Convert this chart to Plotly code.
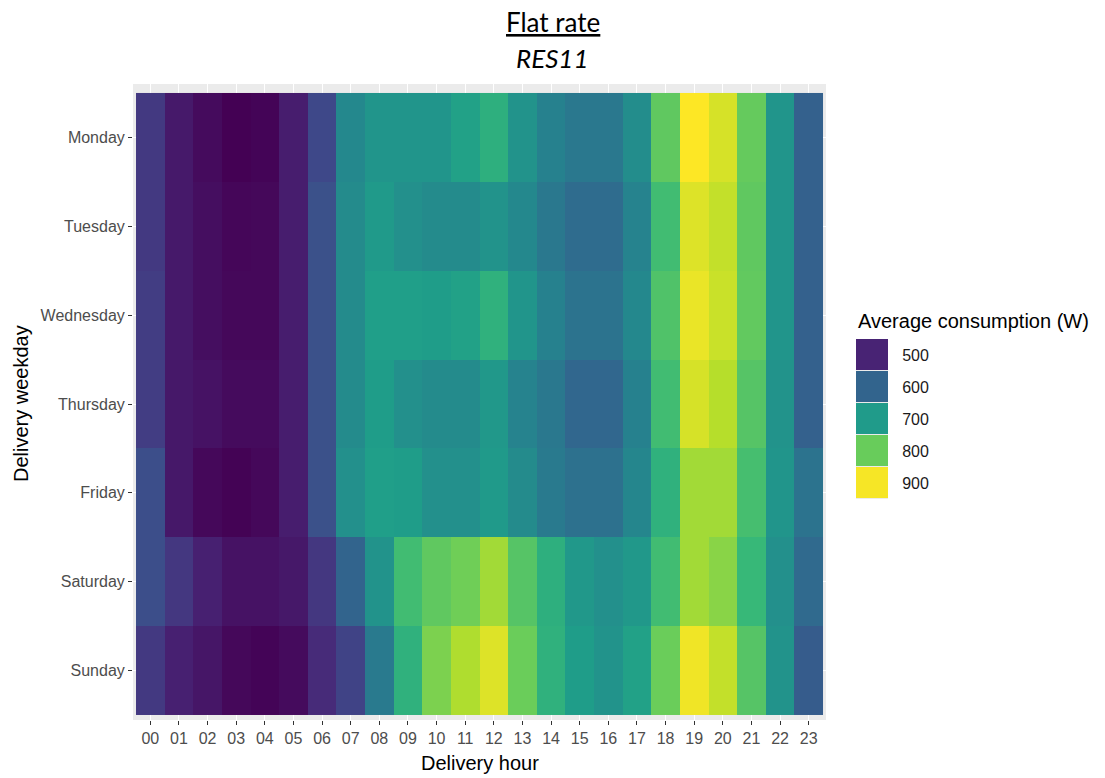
import plotly.graph_objects as go

hours = [f"{h:02d}" for h in range(24)]
days = ["Monday", "Tuesday", "Wednesday", "Thursday", "Friday", "Saturday", "Sunday"]

monday    = [532, 487, 469, 456, 460, 492, 555, 667, 689, 689, 689, 712, 739, 685, 654, 636, 636, 676, 793, 905, 878, 797, 689, 595]
tuesday   = [532, 487, 472, 463, 465, 492, 568, 672, 698, 680, 672, 672, 685, 667, 636, 613, 613, 658, 766, 883, 865, 793, 689, 595]
wednesday = [537, 487, 472, 465, 465, 492, 568, 672, 707, 707, 703, 712, 743, 689, 654, 627, 627, 667, 779, 892, 869, 795, 689, 595]
thursday  = [537, 485, 478, 469, 469, 492, 568, 672, 703, 680, 672, 672, 694, 658, 636, 604, 604, 654, 766, 878, 856, 784, 685, 595]
friday    = [564, 485, 465, 458, 465, 492, 568, 680, 707, 703, 680, 680, 698, 672, 640, 622, 622, 663, 743, 842, 842, 770, 689, 627]
saturday  = [564, 528, 496, 478, 478, 485, 528, 600, 685, 766, 793, 806, 842, 784, 739, 694, 680, 694, 766, 842, 824, 757, 680, 609]
sunday    = [532, 496, 483, 465, 460, 469, 510, 546, 640, 743, 815, 851, 883, 802, 743, 703, 685, 712, 802, 896, 865, 784, 685, 586]

legend_values = [500, 600, 700, 800, 900]
legend_labels = ["500", "600", "700", "800", "900"]

z = [monday, tuesday, wednesday, thursday, friday, saturday, sunday]

fig = go.Figure()

fig.add_trace(go.Heatmap(
    x=hours, y=days, z=z, coloraxis="coloraxis",
    xaxis="x", yaxis="y", hoverongaps=False,
))

fig.add_trace(go.Heatmap(
    x=["k"], y=legend_labels, z=[[v] for v in legend_values],
    coloraxis="coloraxis", xaxis="x2", yaxis="y2", ygap=1,
))

W, H = 1105, 778
px = lambda v: v / W
py = lambda v: 1 - v / H

tickfont = dict(family="Liberation Sans, Arial, sans-serif", size=16, color="#4D4D4D")

fig.update_layout(
    width=W, height=H,
    margin=dict(l=0, r=0, t=0, b=0),
    paper_bgcolor="white",
    plot_bgcolor="#EBEBEB",
    showlegend=False,
    coloraxis=dict(colorscale="Viridis", cmin=456, cmax=905, showscale=False),
    xaxis=dict(
        domain=[px(133), px(826)], type="category",
        categoryorder="array", categoryarray=hours,
        range=[-0.605, 23.605],
        showgrid=True, gridcolor="white", gridwidth=1.2,
        ticks="outside", ticklen=4, tickcolor="#333333", tickwidth=1,
        tickfont=tickfont, zeroline=False, showline=False, anchor="y",
        fixedrange=True,
    ),
    yaxis=dict(
        domain=[py(720), py(84)], type="category",
        categoryorder="array", categoryarray=days,
        range=[6.556, -0.601],
        showgrid=True, gridcolor="white", gridwidth=1.2,
        ticks="outside", ticklen=4, tickcolor="#333333", tickwidth=1,
        tickfont=tickfont, zeroline=False, showline=False, anchor="x",
        fixedrange=True,
    ),
    xaxis2=dict(
        domain=[px(856), px(888)], anchor="y2", visible=False,
        range=[-0.5, 0.5], fixedrange=True,
    ),
    yaxis2=dict(
        domain=[py(499), py(339)], anchor="x2", type="category",
        categoryorder="array", categoryarray=legend_labels,
        range=[4.5, -0.5], side="right",
        showgrid=False, zeroline=False, showline=False,
        ticks="outside", ticklen=10, tickcolor="rgba(0,0,0,0)",
        tickfont=dict(family="Liberation Sans, Arial, sans-serif", size=16, color="#1A1A1A"),
        fixedrange=True,
    ),
    annotations=[
        dict(text="<u>Flat rate</u>", x=0.5, y=py(22), xref="paper", yref="paper",
             showarrow=False, font=dict(family="Lato, sans-serif", size=26, color="black"),
             xanchor="center", yanchor="middle"),
        dict(text="<i>RES11</i>", x=0.5, y=py(58), xref="paper", yref="paper",
             showarrow=False, font=dict(family="Lato, sans-serif", size=26, color="black"),
             xanchor="center", yanchor="middle"),
        dict(text="Delivery hour", x=(px(136) + px(823)) / 2, y=py(763), xref="paper", yref="paper",
             showarrow=False, font=dict(family="Liberation Sans, Arial, sans-serif", size=20, color="black"),
             xanchor="center", yanchor="middle"),
        dict(text="Delivery weekday", x=px(21), y=(py(93) + py(715)) / 2, xref="paper", yref="paper",
             showarrow=False, textangle=-90,
             font=dict(family="Liberation Sans, Arial, sans-serif", size=20, color="black"),
             xanchor="center", yanchor="middle"),
        dict(text="Average consumption (W)", x=px(856), y=py(321), xref="paper", yref="paper",
             showarrow=False, font=dict(family="Liberation Sans, Arial, sans-serif", size=20, color="black"),
             xanchor="left", yanchor="middle"),
    ],
)

fig.write_html("out.html")
